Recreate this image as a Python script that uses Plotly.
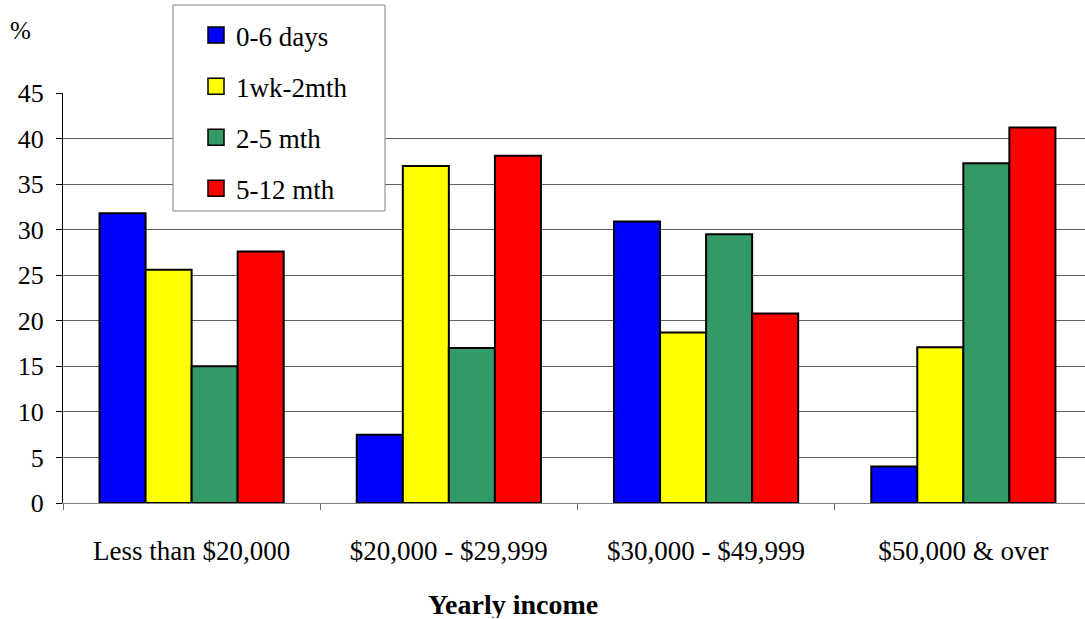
import plotly.graph_objects as go

categories = ["Less than $20,000", "$20,000 - $29,999", "$30,000 - $49,999", "$50,000 & over"]
series_names = ["0-6 days", "1wk-2mth", "2-5 mth", "5-12 mth"]
days_0_6 = [31.8, 7.5, 30.9, 4.0]
wk1_mth2 = [25.6, 37.0, 18.7, 17.1]
mth2_5 = [15.0, 17.0, 29.5, 37.3]
mth5_12 = [27.6, 38.1, 20.8, 41.2]
colors = ["#0000FF", "#FFFF00", "#339966", "#FF0000"]
y_ticks = [0, 5, 10, 15, 20, 25, 30, 35, 40, 45]

FONT = "Liberation Serif"
L, R, T, B = 63, 0, 93, 116
PW, PH = 1085 - L - R, 619 - T - B


def px_x(px):
    return (px - L) / PW


def px_y(py):
    return (619 - B - py) / PH


fig = go.Figure()
all_vals = [days_0_6, wk1_mth2, mth2_5, mth5_12]
for i, (name, vals) in enumerate(zip(series_names, all_vals)):
    fig.add_trace(go.Bar(
        x=categories, y=vals, name=name, showlegend=False,
        marker=dict(color=colors[i], line=dict(color="black", width=2)),
    ))
# legend entries (square swatches)
for i, name in enumerate(series_names):
    fig.add_trace(go.Scatter(
        x=[None], y=[None], mode="markers", name=name, legendgroup=f"g{i}",
        marker=dict(symbol="square", size=16, color=colors[i], line=dict(color="black", width=1.5)),
    ))

fig.update_layout(
    width=1085, height=619,
    margin=dict(l=L, r=R, t=T, b=B),
    paper_bgcolor="white", plot_bgcolor="white",
    barmode="group", bargap=0.284, bargroupgap=0,
    font=dict(family=FONT, size=27, color="black"),
    showlegend=True,
    legend=dict(
        x=px_x(196), y=px_y(11),
        xanchor="left", yanchor="top",
        bgcolor="rgba(0,0,0,0)", borderwidth=0,
        font=dict(family=FONT, size=27, color="black"),
        tracegroupgap=13, itemsizing="trace",
        traceorder="grouped",
    ),
    shapes=[dict(type="rect", xref="paper", yref="paper",
                 x0=px_x(173), x1=px_x(385), y0=px_y(211), y1=px_y(5),
                 fillcolor="white", line=dict(color="#808080", width=1), layer="above")],
)
fig.update_xaxes(
    type="category", range=[-0.5, 3.473],
    tickson="boundaries", ticks="outside", ticklen=6, tickcolor="#666",
    showgrid=False, showline=True, linecolor="#808080", linewidth=1,
    tickfont=dict(family=FONT, size=27), ticklabelstandoff=24,
)
fig.update_yaxes(
    range=[0, 45], tickvals=y_ticks, ticks="outside", ticklen=6, tickcolor="black",
    showgrid=True, gridcolor="#606060", gridwidth=1,
    showline=True, linecolor="black", linewidth=1,
    tickfont=dict(family=FONT, size=26), zeroline=False, ticklabelstandoff=7,
)
fig.add_annotation(text="%", xref="paper", yref="paper", x=px_x(20), y=px_y(30),
                   showarrow=False, font=dict(family=FONT, size=25), xanchor="center", yanchor="middle")
fig.add_annotation(text="<b>Yearly income</b>", xref="paper", yref="paper",
                   x=px_x(513), y=px_y(604), showarrow=False, height=28, valign="middle",
                   font=dict(family=FONT, size=28), xanchor="center", yanchor="middle")

fig.write_html("out.html")
